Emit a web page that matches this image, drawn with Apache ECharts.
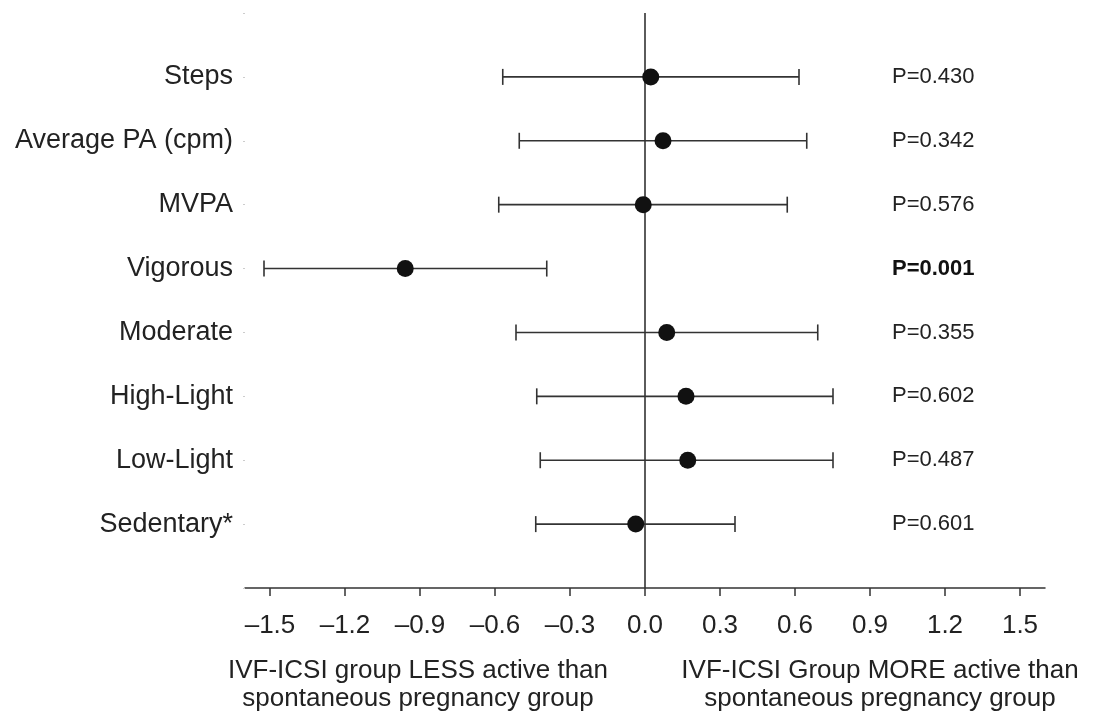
<!DOCTYPE html>
<html>
<head>
<meta charset="utf-8">
<script src="https://cdn.jsdelivr.net/npm/echarts@6/dist/echarts.min.js"></script>
<style>
html,body{margin:0;padding:0;background:#fff;}
#chart{width:1104px;height:720px;}
</style>
</head>
<body>
<div id="chart"></div>
<script>
// Data (top to bottom as in the figure)
var categories = ['Steps', 'Average PA (cpm)', 'MVPA', 'Vigorous', 'Moderate', 'High-Light', 'Low-Light', 'Sedentary*'];
var estimates  = [0.023, 0.072, -0.007, -0.959, 0.087, 0.164, 0.171, -0.037];
var ciLower    = [-0.569, -0.503, -0.585, -1.524, -0.516, -0.433, -0.419, -0.437];
var ciUpper    = [0.616, 0.647, 0.569, -0.393, 0.691, 0.752, 0.752, 0.360];
var pValues    = ['0.430', '0.342', '0.576', '0.001', '0.355', '0.602', '0.487', '0.601'];
var xTicks     = [-1.5, -1.2, -0.9, -0.6, -0.3, 0.0, 0.3, 0.6, 0.9, 1.2, 1.5];
var noteLeft   = 'IVF-ICSI group LESS active than\nspontaneous pregnancy group';
var noteRight  = 'IVF-ICSI Group MORE active than\nspontaneous pregnancy group';

var FONT = "'Liberation Sans', Arial, Helvetica, sans-serif";
var INK = '#222';
var LINE = '#333';

var yCats = [''].concat(categories.slice().reverse()).concat(['']);
var pCats = [''].concat(pValues.slice().reverse().map(function (p) {
  return parseFloat(p) < 0.05 ? '{b|P=' + p + '}' : 'P=' + p;
})).concat(['']);

var barData = categories.map(function (c, i) { return [ciLower[i], ciUpper[i], c]; });
var dotData = categories.map(function (c, i) { return [estimates[i], c]; });

var chart = echarts.init(document.getElementById('chart'), null, {renderer: 'canvas'});
chart.setOption({
  animation: false,
  backgroundColor: '#fff',
  grid: {left: 245, right: 59, top: 13, bottom: 132},
  xAxis: {
    type: 'value', min: -1.6, max: 1.6,
    axisLine: {show: true, onZero: false, lineStyle: {color: LINE, width: 1.5}},
    axisTick: {show: true, customValues: xTicks, length: 8, lineStyle: {color: LINE, width: 1.5}},
    axisLabel: {
      customValues: xTicks, fontSize: 26, color: INK, fontFamily: FONT, margin: 25,
      formatter: function (v) { return (Math.abs(v) < 1e-9 ? 0 : v).toFixed(1).replace('-', '\u2013'); }
    },
    splitLine: {show: false}
  },
  yAxis: [{
    type: 'category', data: yCats, boundaryGap: false,
    axisLine: {show: false, onZero: false},
    axisTick: {show: true, length: 2, lineStyle: {color: '#ccc', width: 1}},
    axisLabel: {fontSize: 27, color: INK, fontFamily: FONT, margin: 12, interval: 0},
    splitLine: {show: false}
  }, {
    type: 'category', data: pCats, boundaryGap: false, position: 'right', offset: -153,
    axisLine: {show: false, onZero: false}, axisTick: {show: false},
    axisLabel: {
      fontSize: 22, color: INK, fontFamily: FONT, margin: 0, interval: 0, align: 'left',
      rich: {b: {fontSize: 22, fontWeight: 'bold', color: '#111', fontFamily: FONT}}
    },
    splitLine: {show: false}
  }],
  series: [{
    type: 'line',
    yAxisIndex: 0,
    data: [],
    silent: true,
    z: 1,
    markLine: {
      silent: true, symbol: 'none', label: {show: false},
      lineStyle: {color: LINE, width: 1.6, type: 'solid'},
      data: [{xAxis: 0}]
    }
  }, {
    type: 'custom',
    yAxisIndex: 0,
    data: barData,
    encode: {x: [0, 1], y: 2},
    renderItem: function (params, api) {
      var y = api.value(2);
      var p1 = api.coord([api.value(0), y]);
      var p2 = api.coord([api.value(1), y]);
      var h = 8;
      var st = {stroke: LINE, lineWidth: 1.6};
      return {type: 'group', children: [
        {type: 'line', shape: {x1: p1[0], y1: p1[1], x2: p2[0], y2: p2[1]}, style: st},
        {type: 'line', shape: {x1: p1[0], y1: p1[1] - h, x2: p1[0], y2: p1[1] + h}, style: st},
        {type: 'line', shape: {x1: p2[0], y1: p2[1] - h, x2: p2[0], y2: p2[1] + h}, style: st}
      ]};
    },
    z: 2
  }, {
    type: 'scatter',
    yAxisIndex: 0,
    data: dotData,
    symbol: 'circle', symbolSize: 17,
    itemStyle: {color: '#111', opacity: 1},
    z: 5
  }],
  graphic: [{
    type: 'text',
    style: {text: noteLeft, x: 418, y: 657, textAlign: 'center', font: '26px ' + FONT, fill: INK, lineHeight: 28}
  }, {
    type: 'text',
    style: {text: noteRight, x: 880, y: 657, textAlign: 'center', font: '26px ' + FONT, fill: INK, lineHeight: 28}
  }]
});
</script>
</body>
</html>
